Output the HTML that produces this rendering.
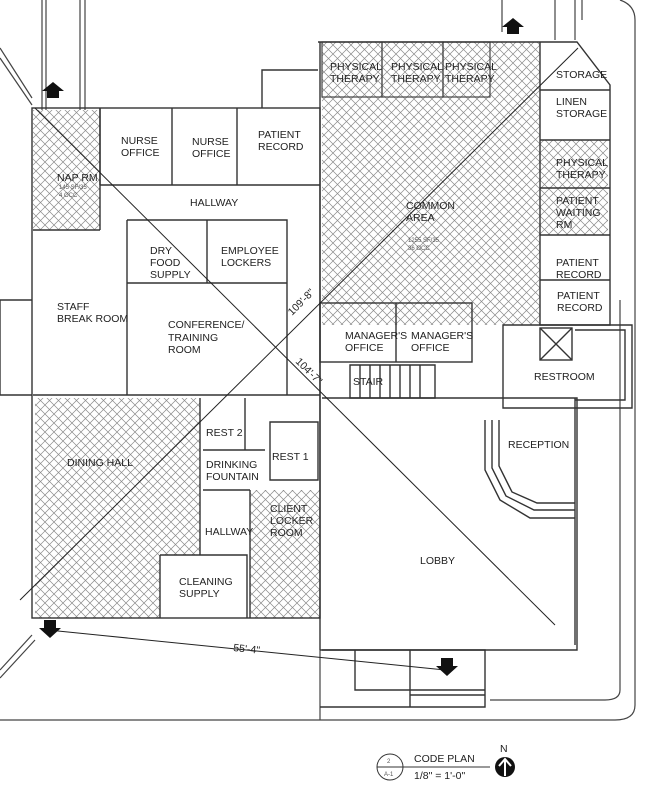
<!DOCTYPE html>
<html><head><meta charset="utf-8"><style>
html,body{margin:0;padding:0;background:#fff;}
svg{display:block;}
text{font-family:"Liberation Sans",sans-serif;font-size:10.5px;fill:#222;}
.s{font-size:6px;fill:#555;}
</style></head><body>
<svg width="650" height="798" viewBox="0 0 650 798" xmlns="http://www.w3.org/2000/svg">
<defs>
<pattern id="h" width="9" height="9" patternUnits="userSpaceOnUse">
<path d="M0 0L9 9M9 0L0 9" stroke="#8a8a8a" stroke-width="0.7"/>
</pattern>
</defs>
<g fill="none" stroke="#444" stroke-width="1.2">
<path d="M42 0V110M46 0V110M80 0V110M85 0V110"/>
<path d="M502 0V32M555 0V40M575 0V40M582 0V20"/>
<path d="M620 0 Q635 5 635 20 V705 Q635 720 615 720 H0"/>
<path d="M620 300V690 Q620 700 605 700 H490"/>
<path d="M0 48L32 98M0 58L32 105"/>
<path d="M0 670L32 635M0 678L35 640"/>
<path d="M320 650V720"/>
</g>
<g fill="url(#h)" stroke="none">
<rect x="33" y="110" width="67" height="120"/>
<rect x="322" y="42" width="218" height="283"/>
<rect x="540" y="140" width="68" height="95"/>
<rect x="35" y="398" width="165" height="220"/>
<rect x="250" y="490" width="70" height="128"/>
</g>
<rect x="160" y="555" width="87" height="63" fill="#fff"/>
<g fill="none" stroke="#444" stroke-width="1.2">
<rect x="322" y="42" width="60" height="55"/>
<rect x="382" y="42" width="61" height="55"/>
<rect x="443" y="42" width="47" height="55"/>
</g>
<g fill="none" stroke="#333" stroke-width="1.4">
<rect x="32" y="108" width="288" height="510"/>
<path d="M100 108V185M172 108V185M237 108V185M100 185H320"/>
<path d="M33 230H100M100 108V230"/>
<path d="M127 220H287V395M127 220V395M207 220V283M127 283H287"/>
<path d="M33 395H320"/>
<path d="M262 108V70H318"/>
<path d="M200 398V555M203 450H265M203 490H250M245 398V450M270 422H318V480H270Z"/>
<path d="M250 490V618M160 555H247V618M160 555V618"/>
<path d="M0 300H32M0 395H32M0 300V395"/>
<path d="M318 42H577L610 85V325H540V42"/>
<path d="M540 90H610M540 140H610M540 188H610M540 235H610M540 280H610"/>
<path d="M320 42V650"/>
<rect x="320" y="303" width="152" height="59"/>
<path d="M396 303V362"/>
<path d="M350 365H435V398H350Z"/>
<path d="M360 365V398M370 365V398M380 365V398M390 365V398M400 365V398M410 365V398M420 365V398"/>
<path d="M503 325H632V408H503ZM575 330H625V400H575"/>
<rect x="540" y="328" width="32" height="32"/>
<path d="M540 328L572 360M572 328L540 360"/>
<path d="M322 398H577V650H322"/>
<path d="M575 398V645"/>
<path d="M485 420V470L500 500L530 518H575M492 420V468L506 496L534 510H575M499 420V466L512 492L537 503H575"/>
<path d="M320 650H485V707H320M355 650V690H485M410 650V707M410 695H485"/>
</g>
<g stroke="#222" stroke-width="1" fill="none">
<path d="M35 108L555 625"/>
<path d="M20 600L578 48"/>
<path d="M48 630L445 670"/>
</g>
<g fill="#111">
<path d="M47 98h12v-7h5l-11-9-11 9h5z"/>
<path d="M507 34h12v-7h5l-11-9-11 9h5z"/>
<path d="M44 620h12v8h5l-11 10-11-10h5z"/>
<path d="M441 658h12v8h5l-11 10-11-10h5z"/>
</g>
<text x="330" y="70">PHYSICAL</text><text x="330" y="82">THERAPY</text>
<text x="391" y="70">PHYSICAL</text><text x="391" y="82">THERAPY</text>
<text x="445" y="70">PHYSICAL</text><text x="445" y="82">THERAPY</text>
<text x="556" y="78">STORAGE</text>
<text x="556" y="105">LINEN</text><text x="556" y="117">STORAGE</text>
<text x="556" y="166">PHYSICAL</text><text x="556" y="178">THERAPY</text>
<text x="556" y="204">PATIENT</text><text x="556" y="216">WAITING</text><text x="556" y="228">RM</text>
<text x="556" y="266">PATIENT</text><text x="556" y="278">RECORD</text>
<text x="557" y="299">PATIENT</text><text x="557" y="311">RECORD</text>
<text x="121" y="144">NURSE</text><text x="121" y="156">OFFICE</text>
<text x="192" y="145">NURSE</text><text x="192" y="157">OFFICE</text>
<text x="258" y="138">PATIENT</text><text x="258" y="150">RECORD</text>
<text x="57" y="181">NAP RM</text>
<text class="s" x="59" y="189">145 SF/35</text><text class="s" x="59" y="197">4 OCC</text>
<text x="190" y="206">HALLWAY</text>
<text x="150" y="254">DRY</text><text x="150" y="266">FOOD</text><text x="150" y="278">SUPPLY</text>
<text x="221" y="254">EMPLOYEE</text><text x="221" y="266">LOCKERS</text>
<text x="406" y="209">COMMON</text><text x="406" y="221">AREA</text>
<text class="s" x="408" y="242">1255 SF/35</text><text class="s" x="408" y="250">36 OCC</text>
<text x="57" y="310">STAFF</text><text x="57" y="322">BREAK ROOM</text>
<text x="168" y="328">CONFERENCE/</text><text x="168" y="341">TRAINING</text><text x="168" y="353">ROOM</text>
<text x="345" y="339">MANAGER'S</text><text x="345" y="351">OFFICE</text>
<text x="411" y="339">MANAGER'S</text><text x="411" y="351">OFFICE</text>
<text x="353" y="385">STAIR</text>
<text x="534" y="380">RESTROOM</text>
<text x="508" y="448">RECEPTION</text>
<text x="67" y="466">DINING HALL</text>
<text x="206" y="436">REST 2</text>
<text x="272" y="460">REST 1</text>
<text x="206" y="468">DRINKING</text><text x="206" y="480">FOUNTAIN</text>
<text x="270" y="512">CLIENT</text><text x="270" y="524">LOCKER</text><text x="270" y="536">ROOM</text>
<text x="205" y="535">HALLWAY</text>
<text x="179" y="585">CLEANING</text><text x="179" y="597">SUPPLY</text>
<text x="420" y="564">LOBBY</text>
<text x="233" y="651" transform="rotate(6 233 651)">55'-4"</text>
<text x="292" y="316" transform="rotate(-45 292 316)">109'-8"</text>
<text x="295" y="362" transform="rotate(45 295 362)">104'-7"</text>
<circle cx="390" cy="767" r="13" fill="none" stroke="#333"/>
<path d="M377 767H403M403 767H490" stroke="#333"/>
<text class="s" x="387" y="763">2</text><text class="s" x="384" y="776">A-1</text>
<text x="414" y="762">CODE PLAN</text>
<text x="414" y="779">1/8" = 1'-0"</text>
<text x="500" y="752">N</text>
<circle cx="505" cy="767" r="10" fill="#111"/>
<path d="M505 759V776M499 766L505 759L511 766" stroke="#fff" stroke-width="2" fill="none"/>
</svg>
</body></html>
